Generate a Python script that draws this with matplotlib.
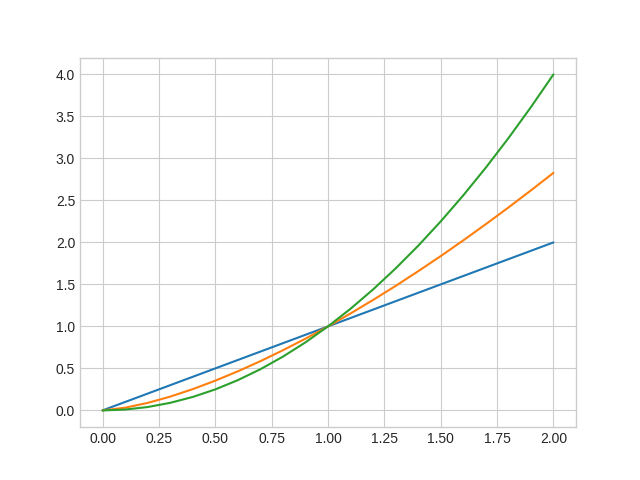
import matplotlib
matplotlib.use("Agg")
from matplotlib import pyplot as plt

# x positions
x = [0.0, 0.1, 0.2, 0.3, 0.4, 0.5, 0.6, 0.7, 0.8, 0.9, 1.0,
     1.1, 1.2, 1.3, 1.4, 1.5, 1.6, 1.7, 1.8, 1.9, 2.0]
# blue line
y_blue = [0.0, 0.1, 0.2, 0.3, 0.4, 0.5, 0.6, 0.7, 0.8, 0.9, 1.0,
          1.1, 1.2, 1.3, 1.4, 1.5, 1.6, 1.7, 1.8, 1.9, 2.0]
# orange line
y_orange = [0.0, 0.032, 0.089, 0.164, 0.253, 0.354, 0.465, 0.586, 0.716, 0.854, 1.0,
            1.154, 1.315, 1.482, 1.657, 1.837, 2.024, 2.217, 2.415, 2.619, 2.828]
# green line
y_green = [0.0, 0.01, 0.04, 0.09, 0.16, 0.25, 0.36, 0.49, 0.64, 0.81, 1.0,
           1.21, 1.44, 1.69, 1.96, 2.25, 2.56, 2.89, 3.24, 3.61, 4.0]

plt.style.use('seaborn-v0_8-whitegrid')
fig, ax = plt.subplots(figsize=(6.4, 4.8), dpi=100)

ax.plot(x, y_blue)
ax.plot(x, y_orange)
ax.plot(x, y_green)

fig.savefig('out.png')
